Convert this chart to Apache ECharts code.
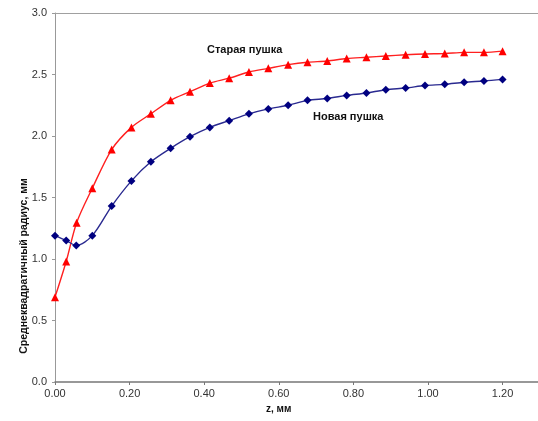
<!DOCTYPE html>
<html><head><meta charset="utf-8">
<script src="https://cdn.jsdelivr.net/npm/echarts@6/dist/echarts.min.js"></script>
<style>html,body{margin:0;padding:0;background:#fff}#c{width:538px;height:421px}</style>
</head><body><div id="c"></div>
<script>
const oldZ = [0, 0.03, 0.058, 0.1, 0.152, 0.205, 0.257, 0.31, 0.362, 0.415, 0.467, 0.52, 0.572, 0.625, 0.677, 0.73, 0.782, 0.835, 0.887, 0.94, 0.992, 1.045, 1.097, 1.15, 1.2];
const oldR = [0.69, 0.98, 1.295, 1.575, 1.89, 2.07, 2.18, 2.29, 2.36, 2.43, 2.47, 2.52, 2.55, 2.58, 2.60, 2.61, 2.63, 2.64, 2.65, 2.66, 2.667, 2.67, 2.68, 2.68, 2.69];
const newZ = [0, 0.03, 0.057, 0.1, 0.152, 0.205, 0.257, 0.31, 0.362, 0.415, 0.467, 0.52, 0.572, 0.625, 0.677, 0.73, 0.782, 0.835, 0.887, 0.94, 0.992, 1.045, 1.097, 1.15, 1.2];
const newR = [1.19, 1.15, 1.11, 1.19, 1.43, 1.635, 1.79, 1.90, 1.994, 2.07, 2.125, 2.18, 2.22, 2.25, 2.29, 2.305, 2.33, 2.35, 2.376, 2.39, 2.41, 2.42, 2.437, 2.447, 2.46];
const oldName = 'Старая пушка';
const newName = 'Новая пушка';
const xTitle = 'z, мм';
const yTitle = 'Среднеквадратичный радиус, мм';

const zip = (a, b) => a.map((v, i) => [v, b[i]]);
const font = 'Liberation Sans, Arial, sans-serif';
const chart = echarts.init(document.getElementById('c'), null, {renderer: 'canvas'});
chart.setOption({
  animation: false,
  backgroundColor: '#fff',
  grid: {left: 55, top: 13, bottom: 39, right: 0, show: false},
  xAxis: [{
    type: 'value', min: 0, max: 1.295, interval: 0.2,
    axisLine: {show: true, lineStyle: {color: '#777', width: 1.5}},
    axisTick: {show: true, inside: false, length: 3, lineStyle: {color: '#777'}},
    axisLabel: {color: '#333', fontFamily: font, fontSize: 11, margin: 6, showMaxLabel: false,
                formatter: v => v.toFixed(2)},
    splitLine: {show: false}
  }, {
    type: 'value', position: 'top', min: 0, max: 1.295,
    axisLine: {show: true, lineStyle: {color: '#a0a0a0', width: 1}},
    axisTick: {show: false}, axisLabel: {show: false}, splitLine: {show: false}
  }],
  yAxis: {
    type: 'value', min: 0, max: 3, interval: 0.5,
    axisLine: {show: true, lineStyle: {color: '#999'}},
    axisTick: {show: true, length: 3, lineStyle: {color: '#999'}},
    axisLabel: {color: '#333', fontFamily: font, fontSize: 11, margin: 8, formatter: v => v.toFixed(1)},
    splitLine: {show: false}
  },
  series: [
    {name: oldName, type: 'line', data: zip(oldZ, oldR), smooth: 0.3,
     symbol: 'triangle', symbolSize: 8,
     lineStyle: {color: '#ff2020', width: 1.4}, itemStyle: {color: '#ff0000'}},
    {name: newName, type: 'line', data: zip(newZ, newR), smooth: 0.3,
     symbol: 'diamond', symbolSize: 8,
     lineStyle: {color: '#2a2a90', width: 1.4}, itemStyle: {color: '#000080'}}
  ],
  graphic: [
    {type: 'text', left: 207, top: 44, style: {text: oldName, font: 'bold 11px ' + font, fill: '#111'}},
    {type: 'text', left: 313, top: 111, style: {text: newName, font: 'bold 11px ' + font, fill: '#111'}},
    {type: 'text', left: 266, top: 404, style: {text: xTitle, font: 'bold 10px ' + font, fill: '#111'}},
    {type: 'text', x: 24, y: 266, rotation: Math.PI / 2,
     style: {text: yTitle, font: 'bold 10.5px ' + font, fill: '#111', align: 'center', verticalAlign: 'middle'}}
  ]
});
</script></body></html>
